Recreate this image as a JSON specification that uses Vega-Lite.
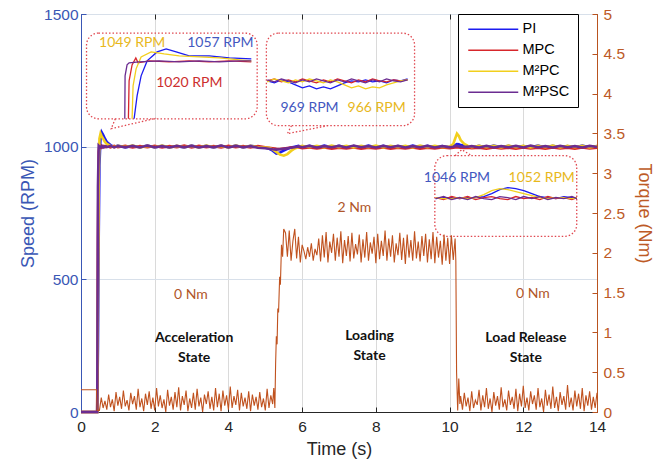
{
"$schema":"https://vega.github.io/schema/vega-lite/v6.json",
"width":516,"height":398,
"autosize":{"type":"none"},
"padding":{"left":81,"top":14,"right":72,"bottom":54},
"datasets":{
"speed":[
{"t":0,"PI":0,"MPC":0,"M²PC":0,"M²PSC":0},
{"t":0.44,"PI":0,"MPC":0,"M²PC":0,"M²PSC":0},
{"t":0.46,"PI":250,"MPC":650,"M²PC":450,"M²PSC":850},
{"t":0.48,"PI":650,"MPC":980,"M²PC":880,"M²PSC":1003},
{"t":0.5,"PI":930,"MPC":1006,"M²PC":1030,"M²PSC":1000},
{"t":0.53,"PI":1035,"MPC":1002,"M²PC":1049,"M²PSC":997},
{"t":0.56,"PI":1055,"MPC":997,"M²PC":1040,"M²PSC":1003},
{"t":0.6,"PI":1045,"MPC":1003,"M²PC":1030,"M²PSC":997},
{"t":0.65,"PI":1030,"MPC":998,"M²PC":1018,"M²PSC":1002},
{"t":0.7,"PI":1018,"MPC":1002,"M²PC":1010,"M²PSC":998},
{"t":0.8,"PI":1006,"MPC":997,"M²PC":1003,"M²PSC":1003},
{"t":0.9,"PI":999,"MPC":1003,"M²PC":998,"M²PSC":997},
{"t":1.0,"PI":1004,"MPC":998,"M²PC":1003,"M²PSC":1002},
{"t":1.2,"PI":997,"MPC":1003,"M²PC":999,"M²PSC":998},
{"t":1.4,"PI":1003,"MPC":997,"M²PC":1004,"M²PSC":1003},
{"t":1.6,"PI":998,"MPC":1002,"M²PC":997,"M²PSC":997},
{"t":1.8,"PI":1004,"MPC":998,"M²PC":1003,"M²PSC":1004},
{"t":2.0,"PI":997,"MPC":1003,"M²PC":998,"M²PSC":998},
{"t":2.2,"PI":1003,"MPC":997,"M²PC":1004,"M²PSC":1002},
{"t":2.4,"PI":998,"MPC":1002,"M²PC":997,"M²PSC":997},
{"t":2.6,"PI":1002,"MPC":998,"M²PC":1003,"M²PSC":1003},
{"t":2.8,"PI":997,"MPC":1004,"M²PC":998,"M²PSC":998},
{"t":3.0,"PI":1004,"MPC":997,"M²PC":1003,"M²PSC":1003},
{"t":3.2,"PI":998,"MPC":1003,"M²PC":997,"M²PSC":997},
{"t":3.4,"PI":1003,"MPC":998,"M²PC":1004,"M²PSC":1002},
{"t":3.6,"PI":997,"MPC":1002,"M²PC":998,"M²PSC":998},
{"t":3.8,"PI":1003,"MPC":997,"M²PC":1003,"M²PSC":1004},
{"t":4.0,"PI":998,"MPC":1003,"M²PC":997,"M²PSC":997},
{"t":4.2,"PI":1004,"MPC":998,"M²PC":1004,"M²PSC":1003},
{"t":4.4,"PI":997,"MPC":1002,"M²PC":998,"M²PSC":998},
{"t":4.6,"PI":1003,"MPC":997,"M²PC":1003,"M²PSC":1002},
{"t":4.8,"PI":999,"MPC":1002,"M²PC":998,"M²PSC":996},
{"t":5.0,"PI":996,"MPC":998,"M²PC":997,"M²PSC":994},
{"t":5.1,"PI":993,"MPC":996,"M²PC":996,"M²PSC":992},
{"t":5.2,"PI":985,"MPC":994,"M²PC":990,"M²PSC":990},
{"t":5.3,"PI":974,"MPC":992,"M²PC":980,"M²PSC":989},
{"t":5.4,"PI":978,"MPC":991,"M²PC":970,"M²PSC":990},
{"t":5.5,"PI":985,"MPC":993,"M²PC":966,"M²PSC":992},
{"t":5.6,"PI":992,"MPC":995,"M²PC":972,"M²PSC":994},
{"t":5.7,"PI":997,"MPC":997,"M²PC":984,"M²PSC":996},
{"t":5.8,"PI":1000,"MPC":996,"M²PC":993,"M²PSC":998},
{"t":5.9,"PI":1003,"MPC":998,"M²PC":999,"M²PSC":1001},
{"t":6.0,"PI":998,"MPC":994,"M²PC":1003,"M²PSC":998},
{"t":6.2,"PI":1003,"MPC":997,"M²PC":998,"M²PSC":1003},
{"t":6.4,"PI":997,"MPC":993,"M²PC":1003,"M²PSC":997},
{"t":6.6,"PI":1004,"MPC":997,"M²PC":997,"M²PSC":1002},
{"t":6.8,"PI":998,"MPC":992,"M²PC":1004,"M²PSC":998},
{"t":7.0,"PI":1003,"MPC":996,"M²PC":998,"M²PSC":1003},
{"t":7.2,"PI":997,"MPC":993,"M²PC":1003,"M²PSC":997},
{"t":7.4,"PI":1002,"MPC":997,"M²PC":997,"M²PSC":1004},
{"t":7.6,"PI":998,"MPC":992,"M²PC":1003,"M²PSC":998},
{"t":7.8,"PI":1004,"MPC":996,"M²PC":998,"M²PSC":1002},
{"t":8.0,"PI":997,"MPC":993,"M²PC":1004,"M²PSC":997},
{"t":8.2,"PI":1003,"MPC":997,"M²PC":997,"M²PSC":1003},
{"t":8.4,"PI":998,"MPC":992,"M²PC":1003,"M²PSC":998},
{"t":8.6,"PI":1002,"MPC":996,"M²PC":998,"M²PSC":1003},
{"t":8.8,"PI":997,"MPC":993,"M²PC":1003,"M²PSC":997},
{"t":9.0,"PI":1004,"MPC":997,"M²PC":997,"M²PSC":1002},
{"t":9.2,"PI":998,"MPC":992,"M²PC":1004,"M²PSC":998},
{"t":9.4,"PI":1003,"MPC":996,"M²PC":998,"M²PSC":1003},
{"t":9.6,"PI":997,"MPC":993,"M²PC":1003,"M²PSC":997},
{"t":9.8,"PI":1002,"MPC":997,"M²PC":998,"M²PSC":1002},
{"t":10.0,"PI":998,"MPC":994,"M²PC":1000,"M²PSC":998},
{"t":10.1,"PI":1002,"MPC":996,"M²PC":1010,"M²PSC":1000},
{"t":10.15,"PI":1006,"MPC":997,"M²PC":1030,"M²PSC":1002},
{"t":10.2,"PI":1010,"MPC":998,"M²PC":1049,"M²PSC":1003},
{"t":10.25,"PI":1009,"MPC":997,"M²PC":1040,"M²PSC":1001},
{"t":10.3,"PI":1006,"MPC":996,"M²PC":1025,"M²PSC":1000},
{"t":10.4,"PI":1004,"MPC":995,"M²PC":1010,"M²PSC":999},
{"t":10.5,"PI":1001,"MPC":996,"M²PC":1003,"M²PSC":1000},
{"t":10.6,"PI":998,"MPC":994,"M²PC":998,"M²PSC":1002},
{"t":10.8,"PI":1003,"MPC":996,"M²PC":1003,"M²PSC":997},
{"t":11.0,"PI":997,"MPC":992,"M²PC":998,"M²PSC":1003},
{"t":11.2,"PI":1004,"MPC":997,"M²PC":1003,"M²PSC":997},
{"t":11.4,"PI":998,"MPC":993,"M²PC":997,"M²PSC":1002},
{"t":11.6,"PI":1003,"MPC":996,"M²PC":1004,"M²PSC":998},
{"t":11.8,"PI":997,"MPC":992,"M²PC":998,"M²PSC":1003},
{"t":12.0,"PI":1002,"MPC":997,"M²PC":1003,"M²PSC":997},
{"t":12.2,"PI":998,"MPC":993,"M²PC":997,"M²PSC":1004},
{"t":12.4,"PI":1004,"MPC":996,"M²PC":1003,"M²PSC":998},
{"t":12.6,"PI":997,"MPC":992,"M²PC":998,"M²PSC":1002},
{"t":12.8,"PI":1003,"MPC":997,"M²PC":1004,"M²PSC":997},
{"t":13.0,"PI":998,"MPC":993,"M²PC":997,"M²PSC":1003},
{"t":13.2,"PI":1002,"MPC":996,"M²PC":1003,"M²PSC":998},
{"t":13.4,"PI":997,"MPC":992,"M²PC":998,"M²PSC":1002},
{"t":13.6,"PI":1004,"MPC":997,"M²PC":1003,"M²PSC":997},
{"t":13.8,"PI":998,"MPC":993,"M²PC":997,"M²PSC":1003},
{"t":14.0,"PI":1002,"MPC":996,"M²PC":1002,"M²PSC":999}
],
"insetA":[
{"series":"PI","t":1.441,"rpm":1105.3},{"series":"PI","t":1.522,"rpm":1191.7},{"series":"PI","t":1.631,"rpm":1266.9},{"series":"PI","t":1.794,"rpm":1323.3},{"series":"PI","t":2.066,"rpm":1357.1},{"series":"PI","t":2.31,"rpm":1368.4},{"series":"PI","t":2.582,"rpm":1357.1},{"series":"PI","t":2.936,"rpm":1342.1},{"series":"PI","t":3.479,"rpm":1342.1},{"series":"PI","t":4.023,"rpm":1334.6},{"series":"PI","t":4.621,"rpm":1330.8},
{"series":"MPC","t":1.286,"rpm":1105.3},{"series":"MPC","t":1.305,"rpm":1248.1},{"series":"MPC","t":1.386,"rpm":1308.3},{"series":"MPC","t":1.487,"rpm":1334.6},{"series":"MPC","t":1.549,"rpm":1315.8},{"series":"MPC","t":1.848,"rpm":1323.3},{"series":"MPC","t":2.392,"rpm":1319.5},{"series":"MPC","t":2.936,"rpm":1323.3},{"series":"MPC","t":3.479,"rpm":1319.5},{"series":"MPC","t":4.023,"rpm":1323.3},{"series":"MPC","t":4.621,"rpm":1319.5},
{"series":"M²PC","t":1.386,"rpm":1105.3},{"series":"M²PC","t":1.413,"rpm":1229.3},{"series":"M²PC","t":1.495,"rpm":1293.2},{"series":"M²PC","t":1.631,"rpm":1338.3},{"series":"M²PC","t":1.903,"rpm":1357.1},{"series":"M²PC","t":2.256,"rpm":1349.4},{"series":"M²PC","t":2.664,"rpm":1342.1},{"series":"M²PC","t":3.207,"rpm":1338.3},{"series":"M²PC","t":3.751,"rpm":1334.6},{"series":"M²PC","t":4.295,"rpm":1327.1},{"series":"M²PC","t":4.621,"rpm":1323.3},
{"series":"M²PSC","t":1.188,"rpm":1105.3},{"series":"M²PSC","t":1.196,"rpm":1266.9},{"series":"M²PSC","t":1.25,"rpm":1308.3},{"series":"M²PSC","t":1.305,"rpm":1315.8},{"series":"M²PSC","t":1.577,"rpm":1319.5},{"series":"M²PSC","t":2.12,"rpm":1323.3},{"series":"M²PSC","t":2.664,"rpm":1319.5},{"series":"M²PSC","t":3.207,"rpm":1323.3},{"series":"M²PSC","t":3.751,"rpm":1319.5},{"series":"M²PSC","t":4.295,"rpm":1323.3},{"series":"M²PSC","t":4.621,"rpm":1323.3}
],
"insetBC":[
{"panel":"B","t":5.056,"PI":1248.1,"MPC":1248.1,"M²PC":1244.3,"M²PSC":1251.9},
{"panel":"B","t":5.246,"PI":1240.6,"MPC":1255.6,"M²PC":1255.6,"M²PSC":1244.3},
{"panel":"B","t":5.436,"PI":1251.9,"MPC":1244.3,"M²PC":1248.1,"M²PSC":1255.6},
{"panel":"B","t":5.626,"PI":1244.3,"MPC":1251.9,"M²PC":1240.6,"M²PSC":1248.1},
{"panel":"B","t":5.817,"PI":1233.1,"MPC":1244.3,"M²PC":1251.9,"M²PSC":1240.6},
{"panel":"B","t":6.007,"PI":1221.7,"MPC":1255.6,"M²PC":1244.3,"M²PSC":1251.9},
{"panel":"B","t":6.197,"PI":1229.3,"MPC":1248.1,"M²PC":1255.6,"M²PSC":1244.3},
{"panel":"B","t":6.388,"PI":1218.0,"MPC":1240.6,"M²PC":1248.1,"M²PSC":1255.6},
{"panel":"B","t":6.578,"PI":1225.5,"MPC":1251.9,"M²PC":1240.6,"M²PSC":1248.1},
{"panel":"B","t":6.768,"PI":1218.0,"MPC":1244.3,"M²PC":1251.9,"M²PSC":1240.6},
{"panel":"B","t":6.958,"PI":1229.3,"MPC":1255.6,"M²PC":1244.3,"M²PSC":1251.9},
{"panel":"B","t":7.149,"PI":1240.6,"MPC":1248.1,"M²PC":1233.1,"M²PSC":1244.3},
{"panel":"B","t":7.339,"PI":1248.1,"MPC":1240.6,"M²PC":1221.7,"M²PSC":1255.6},
{"panel":"B","t":7.529,"PI":1244.3,"MPC":1251.9,"M²PC":1229.3,"M²PSC":1248.1},
{"panel":"B","t":7.72,"PI":1251.9,"MPC":1244.3,"M²PC":1218.0,"M²PSC":1240.6},
{"panel":"B","t":7.91,"PI":1244.3,"MPC":1255.6,"M²PC":1225.5,"M²PSC":1251.9},
{"panel":"B","t":8.1,"PI":1248.1,"MPC":1248.1,"M²PC":1221.7,"M²PSC":1244.3},
{"panel":"B","t":8.29,"PI":1240.6,"MPC":1244.3,"M²PC":1233.1,"M²PSC":1255.6},
{"panel":"B","t":8.481,"PI":1251.9,"MPC":1251.9,"M²PC":1240.6,"M²PSC":1248.1},
{"panel":"B","t":8.671,"PI":1248.1,"MPC":1248.1,"M²PC":1248.1,"M²PSC":1244.3},
{"panel":"B","t":8.861,"PI":1255.6,"MPC":1251.9,"M²PC":1251.9,"M²PSC":1251.9},
{"panel":"C","t":9.622,"PI":804.5,"MPC":808.3,"M²PC":808.3,"M²PSC":804.5},
{"panel":"C","t":9.84,"PI":808.3,"MPC":800.8,"M²PC":804.5,"M²PSC":812.0},
{"panel":"C","t":10.057,"PI":808.3,"MPC":812.0,"M²PC":804.5,"M²PSC":800.8},
{"panel":"C","t":10.274,"PI":804.5,"MPC":804.5,"M²PC":808.3,"M²PSC":808.3},
{"panel":"C","t":10.492,"PI":808.3,"MPC":812.0,"M²PC":804.5,"M²PSC":800.8},
{"panel":"C","t":10.709,"PI":808.3,"MPC":800.8,"M²PC":808.3,"M²PSC":812.0},
{"panel":"C","t":10.927,"PI":812.0,"MPC":808.3,"M²PC":819.5,"M²PSC":804.5},
{"panel":"C","t":11.144,"PI":823.3,"MPC":812.0,"M²PC":834.6,"M²PSC":800.8},
{"panel":"C","t":11.362,"PI":838.3,"MPC":804.5,"M²PC":842.1,"M²PSC":812.0},
{"panel":"C","t":11.579,"PI":845.9,"MPC":800.8,"M²PC":838.3,"M²PSC":808.3},
{"panel":"C","t":11.797,"PI":842.1,"MPC":812.0,"M²PC":830.8,"M²PSC":800.8},
{"panel":"C","t":12.014,"PI":834.6,"MPC":804.5,"M²PC":823.3,"M²PSC":812.0},
{"panel":"C","t":12.232,"PI":823.3,"MPC":808.3,"M²PC":815.8,"M²PSC":804.5},
{"panel":"C","t":12.449,"PI":812.0,"MPC":800.8,"M²PC":808.3,"M²PSC":812.0},
{"panel":"C","t":12.666,"PI":808.3,"MPC":812.0,"M²PC":804.5,"M²PSC":800.8},
{"panel":"C","t":12.884,"PI":804.5,"MPC":804.5,"M²PC":808.3,"M²PSC":808.3},
{"panel":"C","t":13.101,"PI":812.0,"MPC":808.3,"M²PC":808.3,"M²PSC":804.5},
{"panel":"C","t":13.319,"PI":808.3,"MPC":800.8,"M²PC":804.5,"M²PSC":812.0},
{"panel":"C","t":13.455,"PI":804.5,"MPC":808.3,"M²PC":808.3,"M²PSC":804.5}
],
"boxes":[
{"x0":0.15,"x1":4.78,"y0":1105,"y1":1428},
{"x0":5.03,"x1":9.05,"y0":1079,"y1":1428},
{"x0":9.6,"x1":13.45,"y0":662,"y1":966}
],
"tails":[
{"id":1,"o":1,"x":0.93,"y":1105},{"id":1,"o":2,"x":0.82,"y":1068},{"id":1,"o":3,"x":2.04,"y":1107},
{"id":2,"o":1,"x":5.71,"y":1079},{"id":2,"o":2,"x":5.6,"y":1049},{"id":2,"o":3,"x":6.69,"y":1079},
{"id":3,"o":1,"x":10.15,"y":966},{"id":3,"o":2,"x":10.33,"y":989},{"id":3,"o":3,"x":10.6,"y":966}
],
"values":[
{"who":"M²PC","x":1.39,"y":1391,"label":"1049 RPM"},
{"who":"PI","x":3.78,"y":1391,"label":"1057 RPM"},
{"who":"MPC","x":2.94,"y":1240,"label":"1020 RPM"},
{"who":"PI","x":6.2,"y":1147,"label":"969 RPM"},
{"who":"M²PC","x":8.02,"y":1147,"label":"966 RPM"},
{"who":"PI","x":10.2,"y":883,"label":"1046 RPM"},
{"who":"M²PC","x":12.5,"y":883,"label":"1052 RPM"}
],
"states":[
{"x":3.07,"y":278,"label":"Acceleration"},{"x":3.07,"y":203,"label":"State"},
{"x":7.83,"y":288,"label":"Loading"},{"x":7.83,"y":210,"label":"State"},
{"x":12.07,"y":278,"label":"Load Release"},{"x":12.07,"y":203,"label":"State"}
],
"loads":[
{"x":2.98,"y":440,"label":"0 Nm"},{"x":7.42,"y":770,"label":"2 Nm"},{"x":12.26,"y":446,"label":"0 Nm"}
],
"torque":[
{"t":0,"nm":0.28},{"t":0.42,"nm":0.28},{"t":0.44,"nm":0.02},
{"t":0.5,"nm":0.02},{"t":0.55,"nm":0.18},{"t":0.6,"nm":0.05},{"t":0.65,"nm":0.14},{"t":0.7,"nm":0.03},{"t":0.75,"nm":0.22},{"t":0.8,"nm":0.06},{"t":0.85,"nm":0.16},{"t":0.9,"nm":0.01},{"t":0.95,"nm":0.25},
{"t":1.0,"nm":0.08},{"t":1.05,"nm":0.19},{"t":1.1,"nm":0.04},{"t":1.15,"nm":0.27},{"t":1.2,"nm":0.07},{"t":1.25,"nm":0.15},{"t":1.3,"nm":0.02},{"t":1.35,"nm":0.24},{"t":1.4,"nm":0.1},{"t":1.45,"nm":0.2},
{"t":1.5,"nm":0.03},{"t":1.55,"nm":0.29},{"t":1.6,"nm":0.06},{"t":1.65,"nm":0.17},{"t":1.7,"nm":0.01},{"t":1.75,"nm":0.23},{"t":1.8,"nm":0.09},{"t":1.85,"nm":0.26},{"t":1.9,"nm":0.04},{"t":1.95,"nm":0.18},
{"t":2.0,"nm":0.02},{"t":2.05,"nm":0.3},{"t":2.1,"nm":0.07},{"t":2.15,"nm":0.21},{"t":2.2,"nm":0.05},{"t":2.25,"nm":0.16},{"t":2.3,"nm":0.0},{"t":2.35,"nm":0.28},{"t":2.4,"nm":0.08},{"t":2.45,"nm":0.19},
{"t":2.5,"nm":0.03},{"t":2.55,"nm":0.25},{"t":2.6,"nm":0.06},{"t":2.65,"nm":0.31},{"t":2.7,"nm":0.02},{"t":2.75,"nm":0.2},{"t":2.8,"nm":0.09},{"t":2.85,"nm":0.27},{"t":2.9,"nm":0.01},{"t":2.95,"nm":0.17},
{"t":3.0,"nm":0.05},{"t":3.05,"nm":0.24},{"t":3.1,"nm":0.03},{"t":3.15,"nm":0.29},{"t":3.2,"nm":0.07},{"t":3.25,"nm":0.18},{"t":3.3,"nm":0.0},{"t":3.35,"nm":0.22},{"t":3.4,"nm":0.1},{"t":3.45,"nm":0.26},
{"t":3.5,"nm":0.04},{"t":3.55,"nm":0.19},{"t":3.6,"nm":0.02},{"t":3.65,"nm":0.3},{"t":3.7,"nm":0.06},{"t":3.75,"nm":0.23},{"t":3.8,"nm":0.01},{"t":3.85,"nm":0.27},{"t":3.9,"nm":0.08},{"t":3.95,"nm":0.21},
{"t":4.0,"nm":0.03},{"t":4.05,"nm":0.32},{"t":4.1,"nm":0.05},{"t":4.15,"nm":0.2},{"t":4.2,"nm":0.09},{"t":4.25,"nm":0.28},{"t":4.3,"nm":0.02},{"t":4.35,"nm":0.24},{"t":4.4,"nm":0.07},{"t":4.45,"nm":0.18},
{"t":4.5,"nm":0.04},{"t":4.55,"nm":0.26},{"t":4.6,"nm":0.01},{"t":4.65,"nm":0.22},{"t":4.7,"nm":0.08},{"t":4.75,"nm":0.19},{"t":4.8,"nm":0.03},{"t":4.85,"nm":0.25},{"t":4.9,"nm":0.06},{"t":4.95,"nm":0.17},
{"t":5.0,"nm":0.02},{"t":5.05,"nm":0.29},{"t":5.1,"nm":0.05},{"t":5.15,"nm":0.21},{"t":5.2,"nm":0.1},
{"t":5.23,"nm":0.3},{"t":5.26,"nm":0.05},{"t":5.28,"nm":0.6},{"t":5.3,"nm":0.95},{"t":5.32,"nm":0.85},{"t":5.34,"nm":1.3},{"t":5.36,"nm":1.25},{"t":5.39,"nm":1.7},{"t":5.41,"nm":1.6},{"t":5.44,"nm":2.1},{"t":5.47,"nm":1.95},{"t":5.5,"nm":2.3},
{"t":5.55,"nm":2.25},{"t":5.6,"nm":1.95},{"t":5.65,"nm":2.28},{"t":5.7,"nm":1.9},{"t":5.75,"nm":2.15},{"t":5.8,"nm":2.3},{"t":5.85,"nm":1.93},{"t":5.9,"nm":2.2},{"t":5.95,"nm":1.88},{"t":6.0,"nm":2.1},
{"t":6.05,"nm":2.02},{"t":6.1,"nm":1.92},{"t":6.15,"nm":2.07},{"t":6.2,"nm":1.95},{"t":6.25,"nm":2.12},{"t":6.3,"nm":1.9},{"t":6.35,"nm":2.05},{"t":6.4,"nm":1.97},{"t":6.45,"nm":2.18},{"t":6.5,"nm":1.89},
{"t":6.55,"nm":2.22},{"t":6.6,"nm":1.94},{"t":6.65,"nm":2.26},{"t":6.7,"nm":1.88},{"t":6.75,"nm":2.14},{"t":6.8,"nm":2.0},{"t":6.85,"nm":2.24},{"t":6.9,"nm":1.9},{"t":6.95,"nm":2.19},{"t":7.0,"nm":1.95},
{"t":7.05,"nm":2.27},{"t":7.1,"nm":1.87},{"t":7.15,"nm":2.16},{"t":7.2,"nm":1.96},{"t":7.25,"nm":2.21},{"t":7.3,"nm":1.89},{"t":7.35,"nm":2.25},{"t":7.4,"nm":1.93},{"t":7.45,"nm":2.11},{"t":7.5,"nm":1.98},
{"t":7.55,"nm":2.23},{"t":7.6,"nm":1.88},{"t":7.65,"nm":2.17},{"t":7.7,"nm":1.94},{"t":7.75,"nm":2.26},{"t":7.8,"nm":1.9},{"t":7.85,"nm":2.13},{"t":7.9,"nm":1.99},{"t":7.95,"nm":2.2},{"t":8.0,"nm":1.87},
{"t":8.05,"nm":2.24},{"t":8.1,"nm":1.92},{"t":8.15,"nm":2.15},{"t":8.2,"nm":1.96},{"t":8.25,"nm":2.28},{"t":8.3,"nm":1.9},{"t":8.35,"nm":2.18},{"t":8.4,"nm":1.95},{"t":8.45,"nm":2.22},{"t":8.5,"nm":1.88},
{"t":8.55,"nm":2.12},{"t":8.6,"nm":1.97},{"t":8.65,"nm":2.25},{"t":8.7,"nm":1.91},{"t":8.75,"nm":2.19},{"t":8.8,"nm":1.86},{"t":8.85,"nm":2.23},{"t":8.9,"nm":1.94},{"t":8.95,"nm":2.16},{"t":9.0,"nm":1.9},
{"t":9.05,"nm":2.27},{"t":9.1,"nm":1.93},{"t":9.15,"nm":2.14},{"t":9.2,"nm":1.89},{"t":9.25,"nm":2.21},{"t":9.3,"nm":1.96},{"t":9.35,"nm":2.24},{"t":9.4,"nm":1.88},{"t":9.45,"nm":2.17},{"t":9.5,"nm":1.92},
{"t":9.55,"nm":2.26},{"t":9.6,"nm":1.87},{"t":9.65,"nm":2.2},{"t":9.7,"nm":1.94},{"t":9.75,"nm":2.15},{"t":9.8,"nm":1.85},{"t":9.85,"nm":2.23},{"t":9.9,"nm":1.9},{"t":9.95,"nm":2.19},{"t":10.0,"nm":1.86},
{"t":10.05,"nm":2.22},{"t":10.1,"nm":1.91},{"t":10.15,"nm":2.18},
{"t":10.17,"nm":1.9},{"t":10.19,"nm":0.5},{"t":10.22,"nm":0.02},{"t":10.25,"nm":0.42},{"t":10.28,"nm":0.1},
{"t":10.3,"nm":0.2},{"t":10.35,"nm":0.03},{"t":10.4,"nm":0.24},{"t":10.45,"nm":0.07},{"t":10.5,"nm":0.18},{"t":10.55,"nm":0.01},{"t":10.6,"nm":0.26},{"t":10.65,"nm":0.05},{"t":10.7,"nm":0.15},{"t":10.75,"nm":0.09},
{"t":10.8,"nm":0.28},{"t":10.85,"nm":0.02},{"t":10.9,"nm":0.21},{"t":10.95,"nm":0.06},{"t":11.0,"nm":0.3},{"t":11.05,"nm":0.04},{"t":11.1,"nm":0.17},{"t":11.15,"nm":0.0},{"t":11.2,"nm":0.25},{"t":11.25,"nm":0.08},
{"t":11.3,"nm":0.2},{"t":11.35,"nm":0.03},{"t":11.4,"nm":0.31},{"t":11.45,"nm":0.06},{"t":11.5,"nm":0.16},{"t":11.55,"nm":0.02},{"t":11.6,"nm":0.27},{"t":11.65,"nm":0.09},{"t":11.7,"nm":0.19},{"t":11.75,"nm":0.04},
{"t":11.8,"nm":0.29},{"t":11.85,"nm":0.01},{"t":11.9,"nm":0.23},{"t":11.95,"nm":0.07},{"t":12.0,"nm":0.33},{"t":12.05,"nm":0.05},{"t":12.1,"nm":0.18},{"t":12.15,"nm":0.02},{"t":12.2,"nm":0.26},{"t":12.25,"nm":0.1},
{"t":12.3,"nm":0.21},{"t":12.35,"nm":0.03},{"t":12.4,"nm":0.3},{"t":12.45,"nm":0.06},{"t":12.5,"nm":0.17},{"t":12.55,"nm":0.0},{"t":12.6,"nm":0.28},{"t":12.65,"nm":0.08},{"t":12.7,"nm":0.22},{"t":12.75,"nm":0.04},
{"t":12.8,"nm":0.32},{"t":12.85,"nm":0.05},{"t":12.9,"nm":0.19},{"t":12.95,"nm":0.01},{"t":13.0,"nm":0.25},{"t":13.05,"nm":0.09},{"t":13.1,"nm":0.2},{"t":13.15,"nm":0.03},{"t":13.2,"nm":0.34},{"t":13.25,"nm":0.06},
{"t":13.3,"nm":0.18},{"t":13.35,"nm":0.02},{"t":13.4,"nm":0.27},{"t":13.45,"nm":0.07},{"t":13.5,"nm":0.23},{"t":13.55,"nm":0.04},{"t":13.6,"nm":0.3},{"t":13.65,"nm":0.01},{"t":13.7,"nm":0.21},{"t":13.75,"nm":0.08},
{"t":13.8,"nm":0.26},{"t":13.85,"nm":0.03},{"t":13.9,"nm":0.19},{"t":13.95,"nm":0.05},{"t":14.0,"nm":0.24}
]
},
"layer":[
{"layer":[
 {"data":{"name":"speed"},
  "transform":[{"fold":["PI","MPC","M²PC","M²PSC"],"as":["series","rpm"]}],
  "mark":{"type":"line","strokeWidth":2.6},
  "encoding":{
   "x":{"field":"t","type":"quantitative","title":"Time (s)","scale":{"domain":[0,14],"nice":false},
        "axis":{"values":[0,2,4,6,8,10,12,14],"grid":true,"gridColor":"#dadada","domainColor":"#262626","tickColor":"#262626","labelColor":"#262626","titleColor":"#262626","labelPadding":12,"titlePadding":6}},
   "y":{"field":"rpm","type":"quantitative","title":"Speed (RPM)","scale":{"domain":[0,1500],"nice":false},
        "axis":{"values":[0,500,1000,1500],"format":"d","grid":true,"gridColor":"#d8e0ea","domainColor":"#3a57b5","tickColor":"#3a57b5","labelColor":"#3a57b5","titleColor":"#3a57b5","labelPadding":8,"titlePadding":6}},
   "color":{"field":"series","type":"nominal","sort":null,
        "scale":{"domain":["PI","MPC","M²PC","M²PSC"],"range":["#1c1cf0","#d7262b","#f2cf1d","#6b2c91"]},
        "legend":{"orient":"none","legendX":377,"legendY":0,"title":null,"symbolType":"M-1,0H9","symbolSize":100,"symbolStrokeWidth":1.6,"labelFontSize":14.5,"labelFont":"Liberation Sans","labelColor":"black","fillColor":"white","strokeColor":"black","padding":8,"rowPadding":6,"labelOffset":42,"labelExpr":"datum.label + '              '"}}
  }},
 {"data":{"name":"boxes"},
  "mark":{"type":"rect","fill":"white","fillOpacity":0,"stroke":"#e0474f","strokeWidth":1.3,"strokeDash":[1.5,2],"cornerRadius":12},
  "encoding":{"x":{"field":"x0","type":"quantitative","title":"Time (s)"},"x2":{"field":"x1"},"y":{"field":"y0","type":"quantitative","title":"Speed (RPM)"},"y2":{"field":"y1"}}},
 {"data":{"name":"tails"},
  "mark":{"type":"line","stroke":"#e0474f","strokeWidth":1.3,"strokeDash":[1.5,2]},
  "encoding":{"x":{"field":"x","type":"quantitative","title":"Time (s)"},"y":{"field":"y","type":"quantitative","title":"Speed (RPM)"},"detail":{"field":"id","type":"nominal"},"order":{"field":"o","type":"quantitative"}}},
 {"data":{"name":"insetA"},
  "mark":{"type":"line","strokeWidth":1.3},
  "encoding":{"x":{"field":"t","type":"quantitative","title":"Time (s)"},"y":{"field":"rpm","type":"quantitative","title":"Speed (RPM)"},"color":{"field":"series","type":"nominal","sort":null}}},
 {"data":{"name":"insetBC"},
  "transform":[{"fold":["PI","MPC","M²PC","M²PSC"],"as":["series","rpm"]}],
  "mark":{"type":"line","strokeWidth":1.3},
  "encoding":{"x":{"field":"t","type":"quantitative","title":"Time (s)"},"y":{"field":"rpm","type":"quantitative","title":"Speed (RPM)"},"color":{"field":"series","type":"nominal","sort":null},"detail":{"field":"panel","type":"nominal"}}},
 {"data":{"name":"values"},"transform":[{"filter":"datum.who == 'PI'"}],
  "mark":{"type":"text","font":"Lato","fontSize":14,"color":"#4358c0","baseline":"middle"},
  "encoding":{"x":{"field":"x","type":"quantitative","title":"Time (s)"},"y":{"field":"y","type":"quantitative","title":"Speed (RPM)"},"text":{"field":"label"}}},
 {"data":{"name":"values"},"transform":[{"filter":"datum.who == 'M²PC'"}],
  "mark":{"type":"text","font":"Lato","fontSize":14,"color":"#e8b81c","baseline":"middle"},
  "encoding":{"x":{"field":"x","type":"quantitative","title":"Time (s)"},"y":{"field":"y","type":"quantitative","title":"Speed (RPM)"},"text":{"field":"label"}}},
 {"data":{"name":"values"},"transform":[{"filter":"datum.who == 'MPC'"}],
  "mark":{"type":"text","font":"Lato","fontSize":14,"color":"#cc2e2e","baseline":"middle"},
  "encoding":{"x":{"field":"x","type":"quantitative","title":"Time (s)"},"y":{"field":"y","type":"quantitative","title":"Speed (RPM)"},"text":{"field":"label"}}},
 {"data":{"name":"states"},
  "mark":{"type":"text","font":"Lato","fontSize":14,"fontWeight":"bold","color":"#111111","baseline":"middle"},
  "encoding":{"x":{"field":"x","type":"quantitative","title":"Time (s)"},"y":{"field":"y","type":"quantitative","title":"Speed (RPM)"},"text":{"field":"label"}}},
 {"data":{"name":"loads"},
  "mark":{"type":"text","font":"Lato","fontSize":14,"color":"#b0562a","baseline":"middle"},
  "encoding":{"x":{"field":"x","type":"quantitative","title":"Time (s)"},"y":{"field":"y","type":"quantitative","title":"Speed (RPM)"},"text":{"field":"label"}}}
]},
{"layer":[
 {"data":{"name":"torque"},
  "mark":{"type":"line","color":"#c0521f","strokeWidth":1.1},
  "encoding":{
   "x":{"field":"t","type":"quantitative","title":null,
        "axis":{"orient":"top","values":[0,2,4,6,8,10,12,14],"labels":false,"grid":false,"domain":false,"tickColor":"#262626"}},
   "y":{"field":"nm","type":"quantitative","title":"Torque (Nm)","scale":{"domain":[0,5],"nice":false},
        "axis":{"orient":"right","values":[0,0.5,1,1.5,2,2.5,3,3.5,4,4.5,5],"format":".1~f","grid":false,"domainColor":"#b9531f","tickColor":"#b9531f","labelColor":"#bd5a26","titleColor":"#bd5a26","labelPadding":11,"titlePadding":10}}
  }}
]}
],
"resolve":{"scale":{"y":"independent"},"axis":{"x":"independent"}},
"config":{
 "view":{"stroke":"#262626","strokeWidth":1},
 "font":"Liberation Sans",
 "axis":{"labelFont":"Liberation Sans","titleFont":"Liberation Sans","labelFontSize":15.5,"titleFontSize":18,"titleFontWeight":"normal","tickSize":-5,"labelOverlap":false,"labelFlush":false}
}
}
